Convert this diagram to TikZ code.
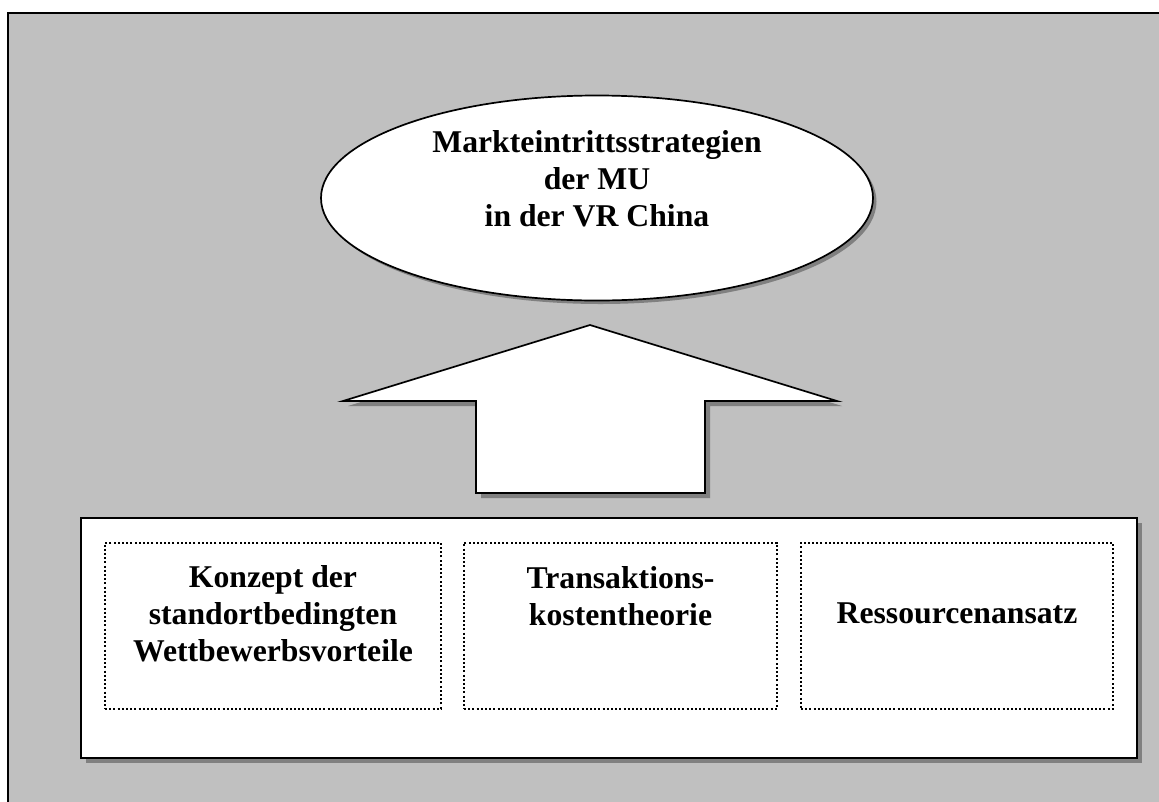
\documentclass[tikz,border=0pt]{standalone}
\usepackage{fontspec}
\setmainfont{Liberation Serif}
\usetikzlibrary{shapes.geometric,shadows}
\definecolor{panel}{HTML}{C0C0C0}
\definecolor{shadowgray}{HTML}{808080}
\begin{document}
\begin{tikzpicture}[x=1pt,y=-1pt,
  shadowed/.style={drop shadow={shadow xshift=5pt,shadow yshift=-5pt,fill=shadowgray,opacity=1}},
  softshadow/.style={drop shadow={shadow xshift=3.5pt,shadow yshift=-3.5pt,fill=shadowgray,opacity=1}},
  outline/.style={draw=black,line width=1.7pt,fill=white},
  label/.style={font=\bfseries\fontsize{31.7}{37}\selectfont,align=center,inner sep=0pt},
  theory/.style={draw=black,line width=2pt,dash pattern=on 2pt off 2.2pt,fill=white}
]
\useasboundingbox (0,0) rectangle (1159,801);
\clip (0,0) rectangle (1159,801);

% grey panel behind everything
\draw[line width=1.7pt,fill=panel] (8,13) rectangle (1180,830);

% goal ellipse
\node[ellipse,outline,softshadow,minimum width=552pt,minimum height=205pt] (goal) at (597,198) {};
\node[label] (goaltext) at (597,179) {Markteintrittsstrategien\\der MU\\in der VR China};

% block arrow pointing up to the goal
\draw[outline,shadowed,line join=miter]
  (590,325) -- (837,401) -- (705,401) -- (705,493) -- (476,493) -- (476,401) -- (343,401) -- cycle;

% base box with the three theories
\draw[outline,shadowed] (81,518) rectangle (1137,758);
\node[theory,minimum width=336pt,minimum height=166pt] (t1) at (273,625.5) {};
\node[theory,minimum width=313pt,minimum height=166pt] (t2) at (620.5,625.5) {};
\node[theory,minimum width=312pt,minimum height=166pt] (t3) at (957,625.5) {};

\node[label] (t1text) at (273,614) {Konzept der\\standortbedingten\\Wettbewerbsvorteile};
\node[label] (t2text) at (620.5,596) {Transaktions-\\kostentheorie};
\node[label] (t3text) at (957,613) {Ressourcenansatz};
\end{tikzpicture}
\end{document}
